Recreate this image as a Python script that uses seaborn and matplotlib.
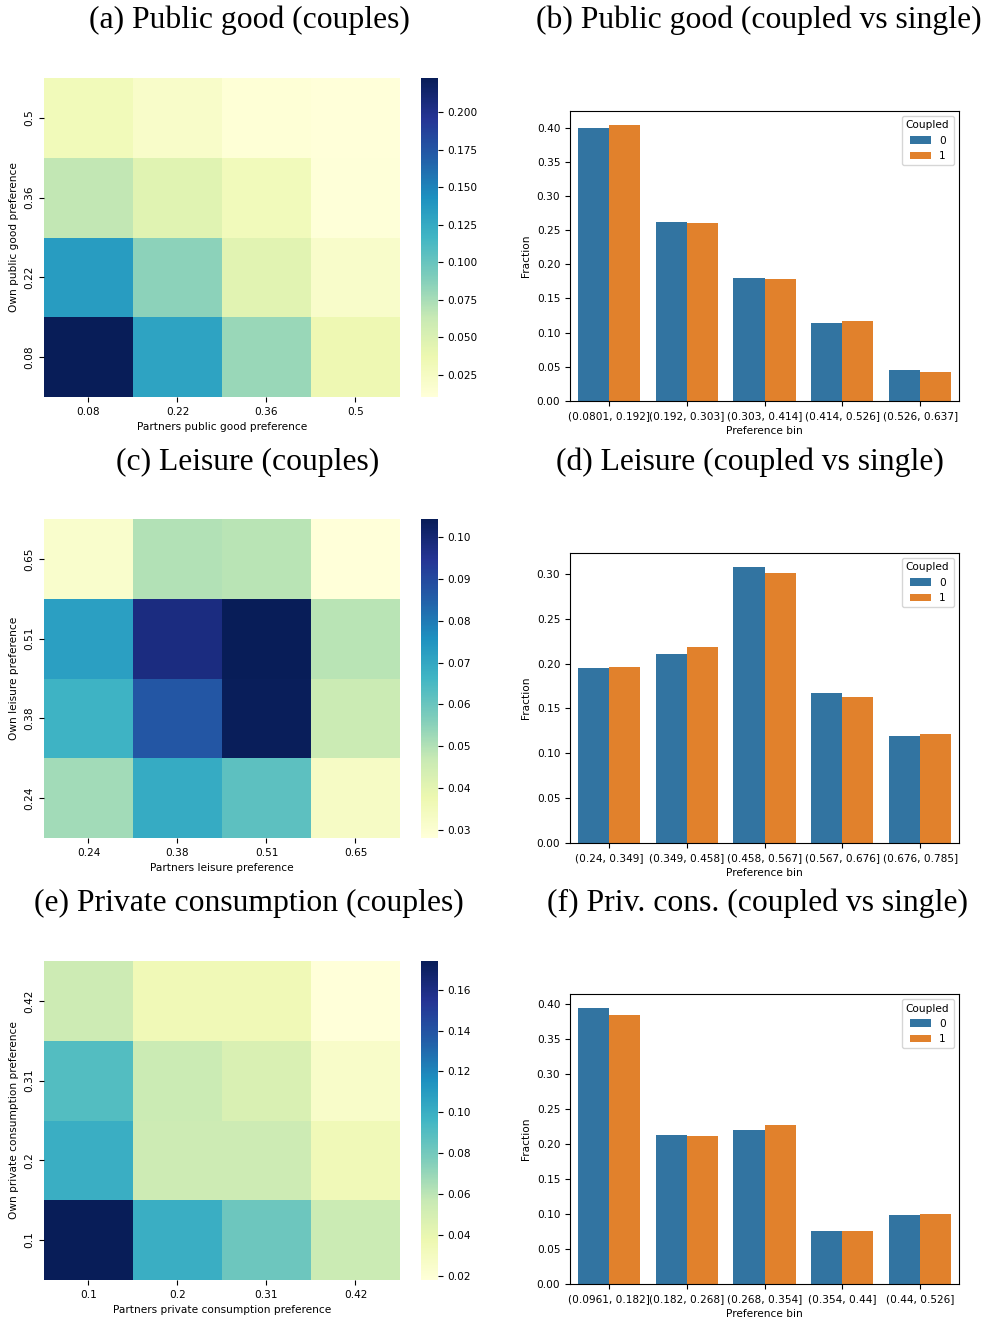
import seaborn as sns
import matplotlib.pyplot as plt
import pandas as pd
import numpy as np

# heatmap data: rows from top to bottom, columns left to right
pub_ticks = ["0.08", "0.22", "0.36", "0.5"]
pub_matrix = [
    [0.031, 0.021, 0.012, 0.010],  # own 0.5
    [0.065, 0.046, 0.030, 0.011],  # own 0.36
    [0.135, 0.085, 0.045, 0.020],  # own 0.22
    [0.223, 0.130, 0.080, 0.035],  # own 0.08
]

lei_ticks = ["0.24", "0.38", "0.51", "0.65"]
lei_matrix = [
    [0.031, 0.050, 0.049, 0.028],  # own 0.65
    [0.072, 0.098, 0.1044, 0.049],  # own 0.51
    [0.067, 0.087, 0.1040, 0.046],  # own 0.38
    [0.052, 0.069, 0.062, 0.033],  # own 0.24
]

priv_ticks = ["0.1", "0.2", "0.31", "0.42"]
priv_matrix = [
    [0.054, 0.035, 0.035, 0.018],  # own 0.42
    [0.090, 0.055, 0.048, 0.026],  # own 0.31
    [0.100, 0.054, 0.054, 0.034],  # own 0.2
    [0.174, 0.100, 0.082, 0.055],  # own 0.1
]

# bar chart data
pub_bins = ["(0.0801, 0.192]", "(0.192, 0.303]", "(0.303, 0.414]", "(0.414, 0.526]", "(0.526, 0.637]"]
pub_single = [0.399, 0.262, 0.180, 0.114, 0.045]
pub_coupled = [0.404, 0.260, 0.178, 0.117, 0.042]

lei_bins = ["(0.24, 0.349]", "(0.349, 0.458]", "(0.458, 0.567]", "(0.567, 0.676]", "(0.676, 0.785]"]
lei_single = [0.195, 0.211, 0.308, 0.167, 0.119]
lei_coupled = [0.196, 0.219, 0.301, 0.163, 0.122]

priv_bins = ["(0.0961, 0.182]", "(0.182, 0.268]", "(0.268, 0.354]", "(0.354, 0.44]", "(0.44, 0.526]"]
priv_single = [0.394, 0.213, 0.220, 0.076, 0.099]
priv_coupled = [0.384, 0.211, 0.227, 0.076, 0.100]

W, H = 987, 1320
fs = 7.6
plt.rcParams["font.size"] = fs

fig = plt.figure(figsize=(W / 100, H / 100), dpi=100)


def px_axes(x0, y0, x1, y1):
    # pixel box (top-left origin) -> figure axes
    return fig.add_axes([x0 / W, 1 - y1 / H, (x1 - x0) / W, (y1 - y0) / H])


def draw_heatmap(top, matrix, ticks, xlabel, ylabel):
    ax = px_axes(44, top, 400, top + 319)
    cax = px_axes(421, top, 438, top + 319)
    df = pd.DataFrame(matrix, index=ticks[::-1], columns=ticks)
    sns.heatmap(df, cmap="YlGnBu", ax=ax, cbar_ax=cax)
    ax.set_xlabel(xlabel, fontsize=fs)
    ax.set_ylabel(ylabel, fontsize=fs)
    ax.tick_params(labelsize=fs)
    plt.setp(ax.get_yticklabels(), rotation=90, va="center")
    plt.setp(ax.get_xticklabels(), rotation=0)
    cax.tick_params(labelsize=fs)


def draw_bars(top, bins, single, coupled):
    ax = px_axes(570, top, 959, top + 290)
    df = pd.DataFrame({
        "Preference bin": bins * 2,
        "Fraction": single + coupled,
        "Coupled": [0] * len(bins) + [1] * len(bins),
    })
    sns.barplot(data=df, x="Preference bin", y="Fraction", hue="Coupled", ax=ax)
    ax.tick_params(labelsize=fs)
    ax.xaxis.label.set_size(fs)
    ax.yaxis.label.set_size(fs)
    ax.legend(title="Coupled", loc="upper right", fontsize=fs, title_fontsize=fs)


draw_heatmap(78, pub_matrix, pub_ticks, "Partners public good preference", "Own public good preference")
draw_bars(111, pub_bins, pub_single, pub_coupled)
draw_heatmap(519, lei_matrix, lei_ticks, "Partners leisure preference", "Own leisure preference")
draw_bars(553, lei_bins, lei_single, lei_coupled)
draw_heatmap(961, priv_matrix, priv_ticks, "Partners private consumption preference", "Own private consumption preference")
draw_bars(994, priv_bins, priv_single, priv_coupled)

titles = [
    (249, 20, "(a) Public good (couples)"),
    (759, 20, "(b) Public good (coupled vs single)"),
    (248, 462, "(c) Leisure (couples)"),
    (750, 462, "(d) Leisure (coupled vs single)"),
    (249, 903, "(e) Private consumption (couples)"),
    (758, 903, "(f) Priv. cons. (coupled vs single)"),
]
for x, y, t in titles:
    fig.text(x / W, 1 - y / H, t, ha="center", va="center",
             family="Liberation Serif", fontsize=22.8)

fig.savefig("out.png", dpi=100)
